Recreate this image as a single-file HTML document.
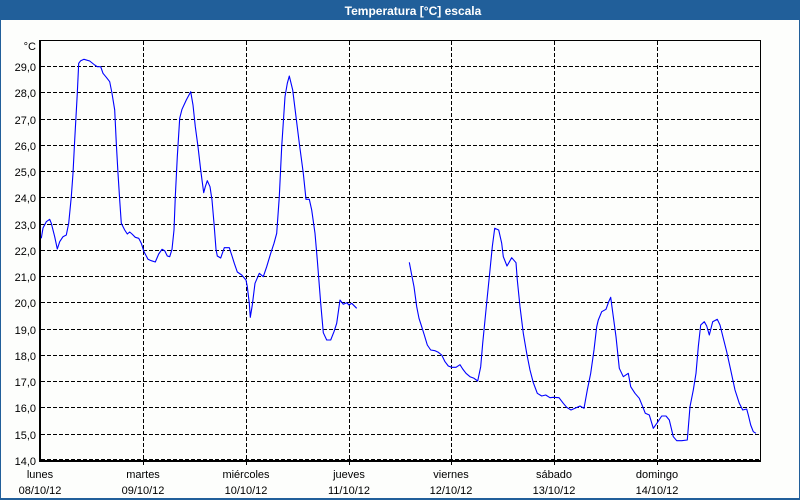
<!DOCTYPE html>
<html><head><meta charset="utf-8"><style>
html,body{margin:0;padding:0;background:#fff;}
svg{display:block;}
text{font-family:"Liberation Sans",Arial,sans-serif;}
</style></head><body>
<svg width="800" height="500" xmlns="http://www.w3.org/2000/svg">
<rect x="0" y="0" width="800" height="500" fill="#fdfefc"/>
<rect x="0" y="0" width="800" height="20" fill="#215f9a"/>
<rect x="0" y="20" width="1" height="480" fill="#215f9a"/>
<rect x="799" y="20" width="1" height="480" fill="#215f9a"/>
<rect x="0" y="498" width="800" height="2" fill="#215f9a"/>
<text x="413" y="15" fill="#fff" font-size="12" font-weight="bold" text-anchor="middle">Temperatura [°C] escala</text>

<g stroke="#000" stroke-width="1" stroke-dasharray="4,2" fill="none" shape-rendering="crispEdges">
<line x1="41" y1="66.5" x2="760" y2="66.5"/>
<line x1="41" y1="92.5" x2="760" y2="92.5"/>
<line x1="41" y1="119.5" x2="760" y2="119.5"/>
<line x1="41" y1="145.5" x2="760" y2="145.5"/>
<line x1="41" y1="171.5" x2="760" y2="171.5"/>
<line x1="41" y1="197.5" x2="760" y2="197.5"/>
<line x1="41" y1="224.5" x2="760" y2="224.5"/>
<line x1="41" y1="250.5" x2="760" y2="250.5"/>
<line x1="41" y1="276.5" x2="760" y2="276.5"/>
<line x1="41" y1="302.5" x2="760" y2="302.5"/>
<line x1="41" y1="329.5" x2="760" y2="329.5"/>
<line x1="41" y1="355.5" x2="760" y2="355.5"/>
<line x1="41" y1="381.5" x2="760" y2="381.5"/>
<line x1="41" y1="407.5" x2="760" y2="407.5"/>
<line x1="41" y1="434.5" x2="760" y2="434.5"/>
<line x1="41" y1="459.5" x2="760" y2="459.5"/>
<line x1="143.5" y1="41" x2="143.5" y2="465"/>
<line x1="246.5" y1="41" x2="246.5" y2="465"/>
<line x1="349.5" y1="41" x2="349.5" y2="465"/>
<line x1="451.5" y1="41" x2="451.5" y2="465"/>
<line x1="554.5" y1="41" x2="554.5" y2="465"/>
<line x1="657.5" y1="41" x2="657.5" y2="465"/>
</g>

<g stroke="#000" fill="none" shape-rendering="crispEdges">
<line x1="40" y1="40.5" x2="761" y2="40.5" stroke-width="1"/>
<line x1="760.5" y1="40" x2="760.5" y2="462" stroke-width="1"/>
<line x1="40" y1="40" x2="40" y2="462" stroke-width="2"/>
<line x1="39" y1="461" x2="761" y2="461" stroke-width="2"/>
</g>

<g fill="none" stroke="#0000ff" stroke-width="1.1" stroke-linejoin="round">
<polyline points="41.3,238.3 43,228 46.3,221.7 49.7,219.3 51.3,223.3 54.7,236.7 57.3,249 59.7,241.7 63,236.7 66.3,235 68.7,223.3 71.3,196.7 73,173.3 74.7,140 77.3,93.3 78.7,63.3 80.7,60.7 84,59.3 89.7,61 94.7,65 97.3,66.7 100.7,66.7 103,73.3 106.3,77.3 109.7,81.7 112,93.3 114.7,110 116.3,143.3 118,173.3 119.7,200 121.3,223.3 124.7,230 127.3,234 129.7,232 132,234 135.3,237.3 138.7,238.3 141.3,243.3 144,251.7 148,259.3 151.3,260.7 155.3,262 158.7,254 162,249.3 164.7,250.7 167.3,256 169.7,256.7 172,249.3 174,230 175.3,196.7 177.3,156.7 179.7,118.3 182,109.3 186.3,100 190.7,91.7 193,105 195.3,126.7 198,146.7 200.7,170 202,180 203.7,192.7 205.3,186.7 207.3,180.7 210,186.7 212,200 214,223.3 216,249.3 217.3,256 220.7,258 224.3,247.7 229.3,247.7 231.7,255 234.3,263.3 237.3,272 241.7,275 246,280 247.3,286.7 249.3,303.3 250.3,317.3 252.3,305 255,283.3 259.3,273.3 263.3,276.7 266.7,266.7 270.7,253.3 274,243.3 276.7,233.3 279.3,196.7 281.7,146.7 285,96.7 287.3,83.3 289.3,76 292.7,90 296,116.7 299.3,143.3 303.3,173.3 306,199.3 309.3,199.3 311.7,210 315,233.3 317.3,260 320.7,303.3 323.3,332.7 326.7,340 330.7,340 334,331.7 336.7,323.3 340,300 343.3,304.3 346.7,302.7 349,305 351.7,303.3 356.7,308.3"/>
<polyline points="409.3,262.3 411.7,275 414,286.7 416.7,306.7 419,318.3 421.7,326.7 424.3,335 427.3,345 430.7,350 435,350.7 438.3,352.3 441.7,355 445,361.7 448.3,366 451.7,367.3 456,367.3 460,364.7 462.7,369 466,373.3 470,376.7 474,378.3 477.7,381 480.7,366.7 482.7,343.3 485,320 487.3,296.7 490,270 492.3,246.7 494.7,228.3 498.7,230 501.7,243.3 503.3,256.7 507,266 511.7,257.7 516,262.7 517.3,280 520,306.7 523.3,333.3 526.7,353.3 530,370 533.3,382.7 537.3,393.3 541.7,396 545.7,395 550,397.7 553.3,397.3 559,397.7 563.3,403.3 566.7,407.3 571,410 575,408.3 580,406 584,408.3 587.3,390 590.7,373.3 594,350 596.7,326.7 598.3,320 601.7,311.7 606,309.3 608.7,301.7 610.7,297.3 613.3,316.7 616,336.7 619.3,368.3 623.3,376.7 628.3,373.3 630.7,386.7 635,393.3 639.3,398.3 642.7,406.7 645.3,413.3 649.3,415 653.3,428.3 657.3,422.7 661.7,416 666,416 669.3,420 673.3,436.7 676.7,440.7 681.7,440.7 687.3,440 690,406.7 693.3,390 696,373.3 698.3,346.7 700.7,325 704.3,321.7 706.7,326 709.3,335 712.7,321.7 717.3,319.3 720,325 723.3,338.3 726.7,351.7 730.7,370 735,390 739.3,403.3 742.7,410 746.7,409 748.3,415 750.7,425 753.3,431.7 756,433.3"/>
</g>

<g font-size="11" fill="#000" text-anchor="end">
<text x="36" y="50">°C</text>
<text x="36" y="71">29,0</text>
<text x="36" y="97">28,0</text>
<text x="36" y="124">27,0</text>
<text x="36" y="150">26,0</text>
<text x="36" y="176">25,0</text>
<text x="36" y="202">24,0</text>
<text x="36" y="229">23,0</text>
<text x="36" y="255">22,0</text>
<text x="36" y="281">21,0</text>
<text x="36" y="307">20,0</text>
<text x="36" y="334">19,0</text>
<text x="36" y="360">18,0</text>
<text x="36" y="386">17,0</text>
<text x="36" y="412">16,0</text>
<text x="36" y="439">15,0</text>
<text x="36" y="465">14,0</text>
</g>

<g font-size="11" fill="#000" text-anchor="middle">
<text x="40" y="478">lunes</text>
<text x="40" y="494">08/10/12</text>
<text x="143" y="478">martes</text>
<text x="143" y="494">09/10/12</text>
<text x="246" y="478">miércoles</text>
<text x="246" y="494">10/10/12</text>
<text x="349" y="478">jueves</text>
<text x="349" y="494">11/10/12</text>
<text x="451" y="478">viernes</text>
<text x="451" y="494">12/10/12</text>
<text x="554" y="478">sábado</text>
<text x="554" y="494">13/10/12</text>
<text x="657" y="478">domingo</text>
<text x="657" y="494">14/10/12</text>
</g>
</svg>
</body></html>
